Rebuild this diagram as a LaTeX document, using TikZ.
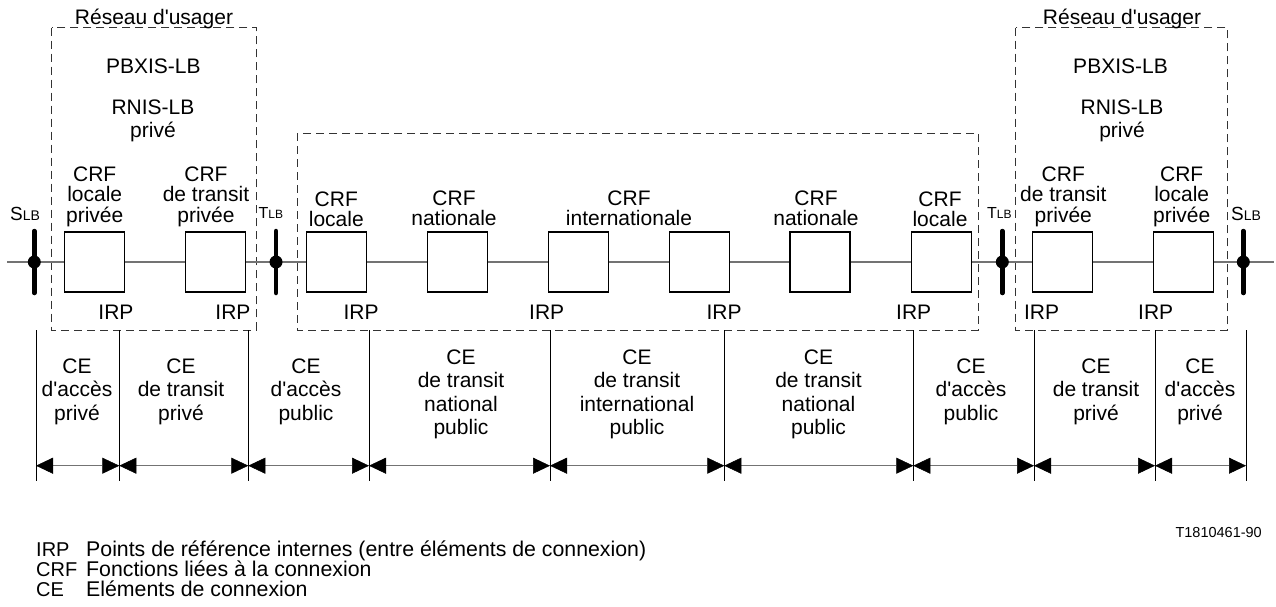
\documentclass[tikz,border=0pt]{standalone}
\usepackage{fontspec}
\setmainfont{Liberation Sans}[Ligatures=TeXOff]
\usetikzlibrary{arrows.meta}
\begin{document}
\begin{tikzpicture}[x=1pt,y=-1pt,
  crf/.style={draw=black,line width=1.3pt,fill=white,minimum width=60pt,minimum height=60pt,inner sep=0pt},
  zone/.style={draw=black!80,line width=1pt,dash pattern=on 8pt off 5pt},
  barline/.style={line width=4.5pt,line cap=round},
  wire/.style={draw=black!55,line width=1.5pt},
  txt/.style={font=\fontsize{21}{22}\selectfont,inner sep=0pt,anchor=base,align=center},
  crfl/.style={font=\fontsize{21}{20.5}\selectfont,inner sep=0pt,anchor=base,align=center},
  celbl/.style={font=\fontsize{21}{23.5}\selectfont,inner sep=0pt,anchor=base,align=center},
  irp/.style={font=\fontsize{21}{22}\selectfont,inner sep=0pt,anchor=base},
  leg/.style={font=\fontsize{21.3}{21.3}\selectfont,inner sep=0pt,anchor=base west},
  legk/.style={font=\fontsize{20}{20}\selectfont,inner sep=0pt,anchor=base west},
  sep/.style={draw=black,line width=1pt},
  dim/.style={draw=black!55,line width=1.5pt,{Triangle[length=17pt,width=16pt,color=black,line width=0.5pt]}-{Triangle[length=17pt,width=16pt,color=black,line width=0.5pt]}},
]
\useasboundingbox (0,0) rectangle (1276,607);

% dashed zones
\draw[zone] (51.7,27.7) rectangle (256.7,330);
\draw[zone] (297,133.3) rectangle (978.3,330);
\draw[zone] (1015.7,27.7) rectangle (1227.7,330);

\node[txt] (ru1) at (154,25) {Réseau d'usager};
\node[txt] (ru2) at (1122,25) {Réseau d'usager};
\node[txt] (pb1) at (153.3,74) {PBXIS-LB};
\node[txt] (pb2) at (1120.5,74) {PBXIS-LB};
\node[txt] (rn1) at (153,137) {RNIS-LB\\privé};
\node[txt] (rn2) at (1122,137) {RNIS-LB\\privé};

% reference points
\coordinate (W0) at (7,262);
\coordinate (W1) at (1274,262);
\coordinate (S1) at (34.3,262);
\coordinate (T1) at (276,262);
\coordinate (T2) at (1002.3,262);
\coordinate (S2) at (1243.3,262);

% CRF boxes
\node[crf] (b1) at (94.3,262) {};
\node[crf] (b2) at (215.7,262) {};
\node[crf] (bA) at (336.3,262) {};
\node[crf] (bB) at (457.5,262) {};
\node[crf] (bC) at (578.7,262) {};
\node[crf] (bD) at (699.3,262) {};
\node[crf] (bE) at (820,262) {};
\node[crf] (bF) at (941.3,262) {};
\node[crf] (bG) at (1062.3,262) {};
\node[crf] (bH) at (1183.3,262) {};

\draw[wire] (W0) -- (b1) -- (b2) -- (bA) -- (bB) -- (bC) -- (bD) -- (bE) -- (bF) -- (bG) -- (bH) -- (W1);

% bars
\foreach \p in {S1,T1,T2,S2} {
  \draw[barline] ([yshift=31pt]\p) -- ([yshift=-31pt]\p);
  \fill (\p) circle (6.5);
}
\node[font=\fontsize{19}{19}\selectfont,inner sep=0pt,anchor=base west] (sl1) at (10,220) {S{\fontsize{14}{14}\selectfont LB}};
\node[font=\fontsize{19}{19}\selectfont,inner sep=0pt,anchor=base west] (sl2) at (1231,220) {S{\fontsize{14}{14}\selectfont LB}};
\node[font=\fontsize{16}{16}\selectfont,inner sep=0pt,anchor=base west] (tl1) at (258.5,218) {T{\fontsize{12}{12}\selectfont LB}};
\node[font=\fontsize{16}{16}\selectfont,inner sep=0pt,anchor=base west] (tl2) at (987,218) {T{\fontsize{12}{12}\selectfont LB}};

% CRF labels (anchor = baseline of last line)
\node[crfl] (l1) at (94.7,222) {CRF\\locale\\privée};
\node[crfl] (l2) at (206,222) {CRF\\de transit\\privée};
\node[crfl] (lA) at (336.3,226.5) {CRF\\locale};
\node[crfl] (lB) at (454,225.5) {CRF\\nationale};
\node[crfl] (lC) at (629,225.5) {CRF\\internationale};
\node[crfl] (lE) at (816,225.5) {CRF\\nationale};
\node[crfl] (lF) at (940,226.5) {CRF\\locale};
\node[crfl] (lG) at (1063.3,222) {CRF\\de transit\\privée};
\node[crfl] (lH) at (1181.7,222) {CRF\\locale\\privée};

% IRP labels
\foreach \i/\x in {1/116,2/233,3/361,4/546.7,5/724,6/913.7,7/1041.5,8/1155.7}
  \node[irp] (irp\i) at (\x,319.5) {IRP};

% CE section
\foreach \n/\x in {0/36,1/119.3,2/248.3,3/369,4/550,5/724.3,6/913.3,7/1034,8/1155,9/1246} {
  \coordinate (t\n) at (\x,330);
  \coordinate (u\n) at (\x,480.7);
  \coordinate (m\n) at (\x,465.7);
  \draw[sep] (t\n) -- (u\n);
}
\foreach \a/\b in {0/1,1/2,2/3,3/4,4/5,5/6,6/7,7/8,8/9}
  \draw[dim] (m\a) -- (m\b);

\node[celbl] (c1) at (77,420) {CE\\d'accès\\privé};
\node[celbl] (c2) at (181,420) {CE\\de transit\\privé};
\node[celbl] (c3) at (306,420) {CE\\d'accès\\public};
\node[celbl] (c4) at (461,434.5) {CE\\de transit\\national\\public};
\node[celbl] (c5) at (637,434.5) {CE\\de transit\\international\\public};
\node[celbl] (c6) at (818.5,434.5) {CE\\de transit\\national\\public};
\node[celbl] (c7) at (971,420) {CE\\d'accès\\public};
\node[celbl] (c8) at (1096,420) {CE\\de transit\\privé};
\node[celbl] (c9) at (1200,420) {CE\\d'accès\\privé};

% figure number
\node[font=\fontsize{14.5}{14.5}\selectfont,inner sep=0pt,anchor=base east] (fig) at (1262,537) {T1810461-90};

% legend
\node[legk] (k1) at (36,556.7) {IRP};
\node[leg] (d1) at (86,556.7) {Points de référence internes (entre éléments de connexion)};
\node[legk] (k2) at (36,576.7) {CRF};
\node[leg] (d2) at (86,576.7) {Fonctions liées à la connexion};
\node[legk] (k3) at (36,596.7) {CE};
\node[leg] (d3) at (86,596.7) {Eléments de connexion};
\end{tikzpicture}
\end{document}
